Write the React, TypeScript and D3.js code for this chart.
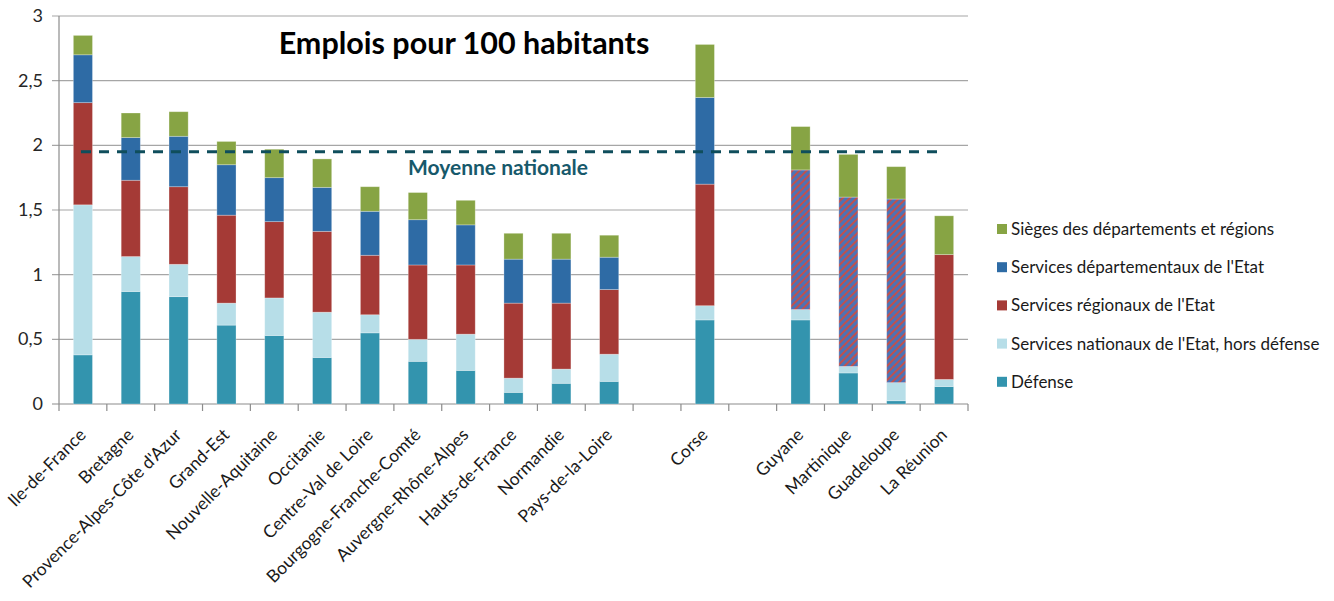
import React, { useEffect, useRef } from 'react';
import * as d3 from 'd3';

// Categories: "" entries are empty slots separating the groups
const categories = [
  'Ile-de-France', 'Bretagne', "Provence-Alpes-Côte d'Azur", 'Grand-Est', 'Nouvelle-Aquitaine',
  'Occitanie', 'Centre-Val de Loire', 'Bourgogne-Franche-Comté', 'Auvergne-Rhône-Alpes',
  'Hauts-de-France', 'Normandie', 'Pays-de-la-Loire', '', 'Corse', '',
  'Guyane', 'Martinique', 'Guadeloupe', 'La Réunion',
];

const defense = [0.38, 0.87, 0.83, 0.61, 0.53, 0.36, 0.55, 0.33, 0.26, 0.09, 0.16, 0.175, 0, 0.65, 0, 0.65, 0.24, 0.025, 0.135];
const nationaux = [1.16, 0.27, 0.25, 0.17, 0.29, 0.35, 0.14, 0.17, 0.28, 0.11, 0.11, 0.21, 0, 0.11, 0, 0.08, 0.05, 0.14, 0.055];
const regionaux = [0.79, 0.59, 0.6, 0.68, 0.59, 0.625, 0.46, 0.575, 0.535, 0.58, 0.51, 0.5, 0, 0.94, 0, 0, 0, 0, 0.965];
// DOM: services régionaux et départementaux fusionnés (hachures)
const fusionnes = [0, 0, 0, 0, 0, 0, 0, 0, 0, 0, 0, 0, 0, 0, 0, 1.08, 1.31, 1.42, 0];
const departementaux = [0.37, 0.33, 0.39, 0.39, 0.34, 0.34, 0.34, 0.35, 0.31, 0.34, 0.34, 0.25, 0, 0.67, 0, 0, 0, 0, 0];
const sieges = [0.15, 0.19, 0.19, 0.18, 0.22, 0.22, 0.19, 0.21, 0.19, 0.2, 0.2, 0.17, 0, 0.41, 0, 0.335, 0.33, 0.25, 0.3];

const moyenneNationale = 1.95;
const yTicks = [0, 0.5, 1, 1.5, 2, 2.5, 3];

const legendItems = [
  { key: 'sieges', label: 'Sièges des départements et régions', color: '#87a444' },
  { key: 'departementaux', label: "Services départementaux de l'Etat", color: '#2e6ba5' },
  { key: 'regionaux', label: "Services régionaux de l'Etat", color: '#a53a36' },
  { key: 'nationaux', label: "Services nationaux de l'Etat, hors défense", color: '#b7dee8' },
  { key: 'defense', label: 'Défense', color: '#3394ae' },
];

const W = 1334;
const H = 601;
const FONT = 'Lato, "Open Sans", sans-serif';

export default function App() {
  const svgRef = useRef<SVGSVGElement | null>(null);

  useEffect(() => {
    const svg = d3.select(svgRef.current);
    svg.selectAll('*').remove();

    const left = 59;
    const right = 968;
    const top = 16;
    const bottom = 404;

    const rows = categories.map((c, i) => ({
      idx: String(i),
      defense: defense[i],
      nationaux: nationaux[i],
      regionaux: regionaux[i],
      fusionnes: fusionnes[i],
      departementaux: departementaux[i],
      sieges: sieges[i],
    }));
    const keys = ['defense', 'nationaux', 'regionaux', 'fusionnes', 'departementaux', 'sieges'];
    const colors: Record<string, string> = {
      defense: '#3394ae',
      nationaux: '#b7dee8',
      regionaux: '#a53a36',
      fusionnes: 'url(#hatch)',
      departementaux: '#2e6ba5',
      sieges: '#87a444',
    };

    const x = d3.scaleBand<string>()
      .domain(rows.map(r => r.idx))
      .range([left, right])
      .paddingInner(0.6)
      .paddingOuter(0.3);
    const y = d3.scaleLinear().domain([0, 3]).range([bottom, top]);

    // hatch pattern for merged services
    const defs = svg.append('defs');
    const pat = defs.append('pattern')
      .attr('id', 'hatch')
      .attr('patternUnits', 'userSpaceOnUse')
      .attr('width', 5)
      .attr('height', 5)
      .attr('patternTransform', 'rotate(45)');
    pat.append('rect').attr('width', 5).attr('height', 5).attr('fill', '#4b73b6');
    pat.append('rect').attr('width', 2).attr('height', 5).attr('fill', '#c0504d');

    // gridlines
    svg.append('g')
      .selectAll('line')
      .data(yTicks)
      .enter()
      .append('line')
      .attr('x1', left - 7)
      .attr('x2', right)
      .attr('y1', d => y(d))
      .attr('y2', d => y(d))
      .attr('stroke', d => (d === 0 ? '#8c8c8c' : '#a6a6a6'))
      .attr('stroke-width', 1.2);

    // y axis line
    svg.append('line')
      .attr('x1', left).attr('x2', left)
      .attr('y1', top).attr('y2', bottom)
      .attr('stroke', '#8c8c8c').attr('stroke-width', 1.2);

    // y labels
    svg.append('g')
      .selectAll('text')
      .data(yTicks)
      .enter()
      .append('text')
      .attr('x', 43)
      .attr('y', d => y(d) + 6)
      .attr('text-anchor', 'end')
      .attr('font-family', FONT)
      .attr('font-size', 18)
      .attr('fill', '#262626')
      .text(d => String(d).replace('.', ','));

    // x ticks at category boundaries
    const step = x.step();
    svg.append('g')
      .selectAll('line')
      .data(d3.range(categories.length + 1))
      .enter()
      .append('line')
      .attr('x1', i => left + i * step)
      .attr('x2', i => left + i * step)
      .attr('y1', bottom)
      .attr('y2', bottom + 7)
      .attr('stroke', '#8c8c8c')
      .attr('stroke-width', 1.2);

    // stacked bars
    const series = d3.stack<any>().keys(keys)(rows);
    svg.append('g')
      .selectAll('g')
      .data(series)
      .enter()
      .append('g')
      .attr('fill', d => colors[d.key])
      .selectAll('rect')
      .data(d => d.filter(s => s[1] - s[0] > 0))
      .enter()
      .append('rect')
      .attr('x', d => x(d.data.idx) as number)
      .attr('width', x.bandwidth())
      .attr('y', d => y(d[1]))
      .attr('height', d => y(d[0]) - y(d[1]))
      .attr('stroke', 'rgba(255,255,255,0.35)')
      .attr('stroke-width', 0.8);

    // national average
    svg.append('line')
      .attr('x1', 81)
      .attr('x2', 937)
      .attr('y1', y(moyenneNationale))
      .attr('y2', y(moyenneNationale))
      .attr('stroke', '#0f4e5c')
      .attr('stroke-width', 3)
      .attr('stroke-dasharray', '10,8');

    svg.append('text')
      .attr('x', 498)
      .attr('y', 175)
      .attr('text-anchor', 'middle')
      .attr('font-family', FONT)
      .attr('font-weight', 'bold')
      .attr('font-size', 21)
      .attr('fill', '#17596b')
      .text('Moyenne nationale');

    // title
    svg.append('text')
      .attr('x', 464)
      .attr('y', 54)
      .attr('text-anchor', 'middle')
      .attr('font-family', FONT)
      .attr('font-weight', 'bold')
      .attr('font-size', 30.5)
      .attr('fill', '#000')
      .text('Emplois pour 100 habitants');

    // x labels
    svg.append('g')
      .selectAll('text')
      .data(rows.filter((r, i) => categories[i] !== ''))
      .enter()
      .append('text')
      .attr('transform', d => {
        const cx = (x(d.idx) as number) + x.bandwidth() / 2 + 4;
        return `translate(${cx},${bottom + 32}) rotate(-45)`;
      })
      .attr('text-anchor', 'end')
      .attr('font-family', FONT)
      .attr('font-size', 17.5)
      .attr('fill', '#1a1a1a')
      .text(d => categories[+d.idx]);

    // legend
    const lg = svg.append('g').attr('transform', 'translate(997,229)');
    const item = lg.selectAll('g')
      .data(legendItems)
      .enter()
      .append('g')
      .attr('transform', (d, i) => `translate(0,${i * 38.2})`);
    item.append('rect')
      .attr('x', 0).attr('y', -5)
      .attr('width', 10).attr('height', 10)
      .attr('fill', d => d.color);
    item.append('text')
      .attr('x', 14)
      .attr('y', 6)
      .attr('font-family', FONT)
      .attr('font-size', 17)
      .attr('fill', '#1a1a1a')
      .text(d => d.label);
  }, []);

  return (
    <div style={{ position: 'absolute', left: 0, top: 0 }}>
      <svg ref={svgRef} width={W} height={H} style={{ display: 'block', background: '#fff' }} />
    </div>
  );
}
